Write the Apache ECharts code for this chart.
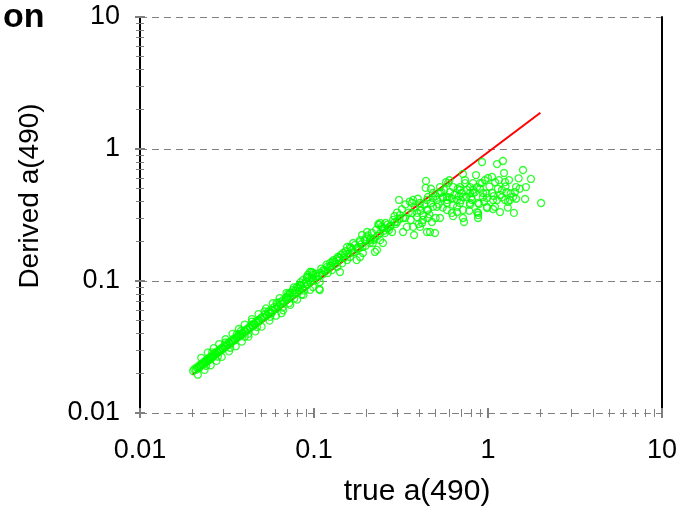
<!DOCTYPE html>
<html>
<head>
<meta charset="utf-8">
<script src="https://cdn.jsdelivr.net/npm/echarts@6/dist/echarts.min.js"></script>
<style>
	html, body { margin: 0; padding: 0; background: #fff; }
	#chart { width: 687px; height: 518px; }
</style>
</head>
<body>
<div id="chart"></div>
<script>
// points, [true a(490), derived a(490)]
var lowBand = [
	[0.0202,0.0208],[0.0205,0.0215],[0.021,0.0212],[0.0212,0.0222],[0.0215,0.0218],[0.0218,0.0226],[0.022,0.0221],[0.0222,0.0232],
	[0.0225,0.0229],[0.0228,0.0236],[0.023,0.0233],[0.0232,0.0244],[0.0235,0.0238],[0.0238,0.0247],[0.024,0.0242],[0.0242,0.0255],
	[0.0245,0.0249],[0.0248,0.0258],[0.025,0.0252],[0.0252,0.0265],[0.0255,0.0259],[0.0258,0.0268],[0.026,0.0262],[0.0263,0.0278],
	[0.0265,0.0271],[0.0268,0.0275],[0.027,0.0284],[0.0273,0.0279],[0.0276,0.0291],[0.028,0.0286],[0.0283,0.0297],[0.0286,0.0292],
	[0.029,0.0305],[0.0293,0.0299],[0.0296,0.0312],[0.03,0.0307],
	[0.0305,0.0322],[0.031,0.0315],[0.0315,0.0333],[0.032,0.0328],[0.0325,0.0342],[0.033,0.0335],[0.0335,0.0352],[0.034,0.0348],
	[0.0345,0.0365],[0.035,0.0356],[0.0355,0.0372],[0.036,0.0369],[0.0366,0.0385],[0.037,0.0378],[0.0376,0.0398],[0.038,0.0388],
	[0.0387,0.0405],[0.039,0.0402],[0.0398,0.042],[0.0405,0.0413],[0.041,0.0432],[0.0418,0.0428],[0.0425,0.0448],[0.043,0.0441],
	[0.0438,0.0462],[0.0445,0.0455],[0.045,0.0476],[0.0458,0.0469],[0.0465,0.0492],[0.0472,0.0484],[0.048,0.0505],[0.0488,0.05],
	[0.0495,0.0522],
	[0.0505,0.0535],[0.0515,0.0528],[0.0525,0.0562],[0.0535,0.0548],[0.0545,0.0585],[0.0555,0.0572],[0.0565,0.0605],[0.0578,0.0592],
	[0.059,0.0635],[0.06,0.0618],[0.0612,0.066],[0.0625,0.0641],[0.0638,0.069],[0.065,0.0672],[0.0662,0.0715],[0.0675,0.0695],
	[0.069,0.0748],[0.0705,0.0728],[0.072,0.0785],[0.0735,0.0752],[0.075,0.0815],[0.0765,0.0788],[0.078,0.085],[0.0795,0.0812],
	[0.081,0.0885],[0.0825,0.0842],[0.0842,0.0918],[0.0858,0.088],[0.0875,0.0955],[0.089,0.0908],[0.0905,0.0985],[0.092,0.0942],
	[0.094,0.102],[0.0958,0.0985],[0.0975,0.106],[0.0995,0.1015],[0.072,0.068],[0.085,0.079],
	[0.024,0.0228],[0.028,0.0268],[0.033,0.0312],[0.036,0.0395],[0.04,0.0378],[0.044,0.0492],[0.047,0.0448],[0.052,0.0588],
	[0.056,0.0535],[0.061,0.0685],[0.066,0.0628],[0.071,0.08],[0.077,0.0735],[0.083,0.0935],[0.088,0.0845],[0.093,0.105],
	[0.026,0.0288],[0.031,0.0342],[0.038,0.0418],[0.042,0.0398],
	[0.0215,0.0195],[0.0225,0.0262],[0.0235,0.0212],[0.0245,0.0287],[0.0255,0.023],[0.0265,0.031],[0.0275,0.0248],[0.0285,0.0333],
	[0.0295,0.0266],[0.031,0.0362],[0.0325,0.0293],[0.034,0.0398],[0.0355,0.032],[0.037,0.0433],[0.0385,0.0347],[0.04,0.0468],
	[0.042,0.0379],[0.044,0.0515],[0.046,0.0415],[0.048,0.0562],[0.05,0.0451],[0.053,0.062],[0.0555,0.0501],[0.058,0.0679],
	[0.0605,0.0546],[0.0635,0.0743],[0.0665,0.06],[0.0695,0.0813],[0.073,0.0659],[0.0765,0.0895],[0.08,0.0722],[0.0835,0.0977],
	[0.087,0.0785],[0.091,0.1065],[0.095,0.0857],[0.0985,0.115]
];

var midBand = [
	[0.236,0.266],[0.263,0.266],[0.249,0.252],[0.202,0.235],[0.189,0.223],[0.210,0.204],[0.240,0.204],[0.218,0.194],
	[0.184,0.204],[0.168,0.194],[0.177,0.178],[0.191,0.163],[0.165,0.172],[0.155,0.181],[0.147,0.163],[0.137,0.152],
	[0.161,0.152],[0.184,0.152],[0.224,0.166],[0.129,0.144],[0.124,0.137],[0.119,0.128],[0.136,0.128],[0.141,0.117],
	[0.113,0.121],[0.108,0.115],[0.0987,0.111],[0.0948,0.117],[0.0912,0.107],[0.0865,0.102],[0.108,0.0983],[0.0987,0.0901],
	[0.0832,0.0933],[0.0798,0.0901],[0.0757,0.0855],[0.107,0.0869],[0.0728,0.0811],[0.070,0.0757],
	[0.234,0.270],[0.256,0.231],[0.249,0.194],[0.230,0.172],[0.161,0.181],[0.131,0.139],[0.115,0.121],[0.097,0.117],
	[0.092,0.111],[0.108,0.0855],[0.104,0.102],[0.065,0.057],[0.057,0.057],[0.27,0.243],[0.21,0.194],[0.19,0.181],
	[0.155,0.144],[0.145,0.136],[0.176,0.144],[0.12,0.115],[0.127,0.121],[0.240,0.275],[0.240,0.231],[0.224,0.211],
	[0.20,0.215],[0.17,0.165],[0.15,0.158],[0.14,0.15],[0.125,0.131],[0.112,0.112],[0.103,0.108],
	[0.102,0.113],[0.105,0.109],[0.11,0.124],[0.116,0.118],[0.118,0.133],[0.122,0.126],[0.128,0.14],[0.133,0.135],
	[0.135,0.147],[0.139,0.143],[0.143,0.158],[0.149,0.15],[0.152,0.168],[0.158,0.16],[0.163,0.178],[0.167,0.165],
	[0.172,0.188],[0.18,0.175],[0.183,0.197],[0.187,0.19],[0.195,0.205],[0.198,0.185],[0.205,0.222],[0.212,0.21],
	[0.215,0.232],[0.22,0.205],[0.228,0.245],[0.232,0.22],[0.245,0.258],[0.252,0.24],[0.258,0.275],[0.265,0.25],
	[0.275,0.262],[0.285,0.29],[0.295,0.27],[0.29,0.31],[0.3,0.33],[0.31,0.295]
];

var upperCloud = [
	[0.440,0.573],[0.438,0.507],[0.308,0.411],[0.371,0.411],[0.924,0.797],[1.127,0.769],[1.219,0.811],[1.589,0.693],
	[1.766,0.593],[2.018,0.390],[1.633,0.418],[1.409,0.328],[1.172,0.333],[0.728,0.280],[0.877,0.300],[0.877,0.328],
	[0.496,0.231],[0.464,0.235],[0.376,0.223],[0.371,0.257],
	[1.236,0.658],[1.0,0.603],[1.054,0.614],[1.156,0.582],[1.321,0.582],[1.449,0.515],[1.652,0.515],[1.429,0.472],
	[1.393,0.433],[1.337,0.411],[1.303,0.397],[1.203,0.489],[1.172,0.449],[1.069,0.411],[1.097,0.364],[0.987,0.364],
	[1.069,0.351],[0.924,0.552],[0.865,0.515],[0.820,0.489],[0.788,0.464],[0.738,0.582],[0.718,0.647],[0.853,0.635],
	[0.888,0.383],[0.788,0.377],[0.718,0.433],[0.664,0.411],[0.630,0.377],[0.581,0.411],[0.605,0.472],[0.551,0.433],
	[0.509,0.411],[0.483,0.364],[0.452,0.345],[0.423,0.316],[0.452,0.300],[0.418,0.275],[0.391,0.328],[0.366,0.390],
	[0.407,0.390],[0.446,0.411],[0.483,0.464],[0.530,0.515],[0.574,0.562],[0.630,0.515],[0.690,0.489],[0.809,0.411],
	[0.936,0.433],[0.334,0.300],[0.312,0.316],[0.300,0.280],[0.281,0.235],[0.342,0.257],
	[1.253,0.562],[0.738,0.552],[0.820,0.552],[0.90,0.552],[0.788,0.515],[0.690,0.515],[0.708,0.464],[0.820,0.464],
	[0.936,0.464],[1.054,0.464],[1.28,0.472],[1.253,0.411],[1.127,0.411],[0.987,0.425],[0.877,0.390],[0.788,0.390],
	[0.690,0.390],[0.581,0.390],[0.551,0.425],[0.54,0.472],[0.987,0.357],[0.865,0.333],[0.664,0.333],[0.718,0.300],
	[0.877,0.316],[0.59,0.552],
	[0.452,0.433],[0.483,0.425],[0.530,0.464],[0.581,0.433],[0.75,0.433],[0.407,0.364],[0.446,0.345],[0.509,0.364],
	[0.581,0.345],[0.664,0.364],[0.718,0.345],[0.62,0.328],[0.366,0.328],[0.391,0.305],[0.423,0.29],[0.476,0.280],
	[0.530,0.300],[0.325,0.300],[0.291,0.280],[0.272,0.257],[0.407,0.257],[0.446,0.235],[0.325,0.235],
	[0.32,0.35],[0.335,0.38],[0.35,0.33],[0.355,0.4],[0.38,0.36],[0.395,0.42],[0.41,0.34],[0.43,0.38],
	[0.47,0.39],[0.5,0.44],[0.52,0.38],[0.56,0.49],[0.6,0.43],[0.64,0.45],[0.67,0.5],[0.7,0.41],
	[0.76,0.49],[0.8,0.43],[0.84,0.47],[0.9,0.5],[0.95,0.4],[1.02,0.52],[1.08,0.44],[1.14,0.5],
	[1.2,0.43],[1.26,0.52],[1.35,0.46],[1.45,0.42],[1.52,0.5],[1.5,0.6],[1.1,0.56],[0.96,0.58],
	[0.62,0.42],[0.68,0.44],[0.55,0.36],[0.46,0.32],[0.5,0.3],[0.4,0.27],[0.36,0.29],[0.63,0.31],
	[0.78,0.34],[0.98,0.46],[1.3,0.36],[0.6,0.58],[0.47,0.5]
];

// red 1:1 line
var lineX = [0.02, 2.0];
var lineY = [0.0195, 1.88];

var majorTicks = [0.01, 0.1, 1, 10];
var minorTicks = [
	0.02, 0.03, 0.04, 0.05, 0.06, 0.07, 0.08, 0.09,
	0.2, 0.3, 0.4, 0.5, 0.6, 0.7, 0.8, 0.9,
	2, 3, 4, 5, 6, 7, 8, 9
];

var myChart = echarts.init(document.getElementById('chart'));
var font = 'Liberation Sans, Arial, sans-serif';

// tick-only axes laid over the log axes (in log10 space) so ticks cross the axis line
function tickAxis(position, values, inside, len, width) {
	return {
		type: 'value',
		position: position,
		min: -2,
		max: 1,
		axisLine: { show: false, onZero: false },
		axisLabel: { show: false },
		splitLine: { show: false },
		axisTick: {
			show: true,
			inside: inside,
			length: len,
			customValues: values.map(function (v) { return Math.log10(v); }),
			lineStyle: { color: '#7f7f7f', width: width }
		}
	};
}

var points = lowBand.concat(midBand, upperCloud);
var linePoints = lineX.map(function (x, i) { return [x, lineY[i]]; });

var option = {
	animation: false,
	backgroundColor: '#fff',
	title: {
		text: 'on',
		left: -2,
		top: -4,
		textStyle: { fontSize: 34, fontWeight: 'bold', fontFamily: font, color: '#000' }
	},
	grid: { left: 140, right: 25, top: 17, bottom: 105 },
	xAxis: [
		{
			type: 'log',
			logBase: 10,
			min: 0.01,
			max: 10,
			position: 'bottom',
			axisLine: { show: false, onZero: false },
			axisTick: { show: false },
			splitLine: { show: false },
			axisLabel: { fontSize: 27, color: '#000', fontFamily: font, margin: 24 },
			name: 'true a(490)',
			nameLocation: 'middle',
			nameGap: 64,
			nameTextStyle: { fontSize: 30, color: '#000', fontFamily: font, padding: [0, 0, 0, 32] }
		},
		tickAxis('bottom', minorTicks, false, 4, 1),
		tickAxis('bottom', minorTicks, true, 4, 1),
		tickAxis('bottom', majorTicks, false, 5, 2),
		tickAxis('bottom', majorTicks, true, 5, 2)
	],
	yAxis: [
		{
			type: 'log',
			logBase: 10,
			min: 0.01,
			max: 10,
			position: 'left',
			axisLine: { show: true, onZero: false, lineStyle: { color: '#000', width: 2 } },
			axisTick: { show: false },
			splitLine: { show: true, lineStyle: { color: '#808080', width: 1, type: [7, 5] } },
			axisLabel: { fontSize: 27, color: '#000', fontFamily: font, margin: 20 },
			name: 'Derived a(490)',
			nameLocation: 'middle',
			nameGap: 96,
			nameTextStyle: { fontSize: 28, color: '#000', fontFamily: font, padding: [0, 0, 0, 38] }
		},
		tickAxis('left', minorTicks, false, 4, 1),
		tickAxis('left', minorTicks, true, 4, 1),
		tickAxis('left', majorTicks, false, 5, 2),
		tickAxis('left', majorTicks, true, 5, 2),
		{
			type: 'value',
			position: 'right',
			min: -2,
			max: 1,
			axisLine: { show: true, onZero: false, lineStyle: { color: '#000', width: 2 } },
			axisTick: { show: false },
			axisLabel: { show: false },
			splitLine: { show: false }
		}
	],
	series: [
		{
			type: 'scatter',
			z: 2,
			data: points,
			symbol: 'circle',
			symbolSize: 7,
			itemStyle: { color: 'rgba(0,0,0,0)', borderColor: '#00ff00', borderWidth: 1.3 }
		},
		{
			type: 'line',
			z: 1,
			data: linePoints,
			showSymbol: false,
			lineStyle: { color: '#ff0000', width: 2 }
		}
	]
};
option && myChart.setOption(option);
</script>
</body>
</html>
